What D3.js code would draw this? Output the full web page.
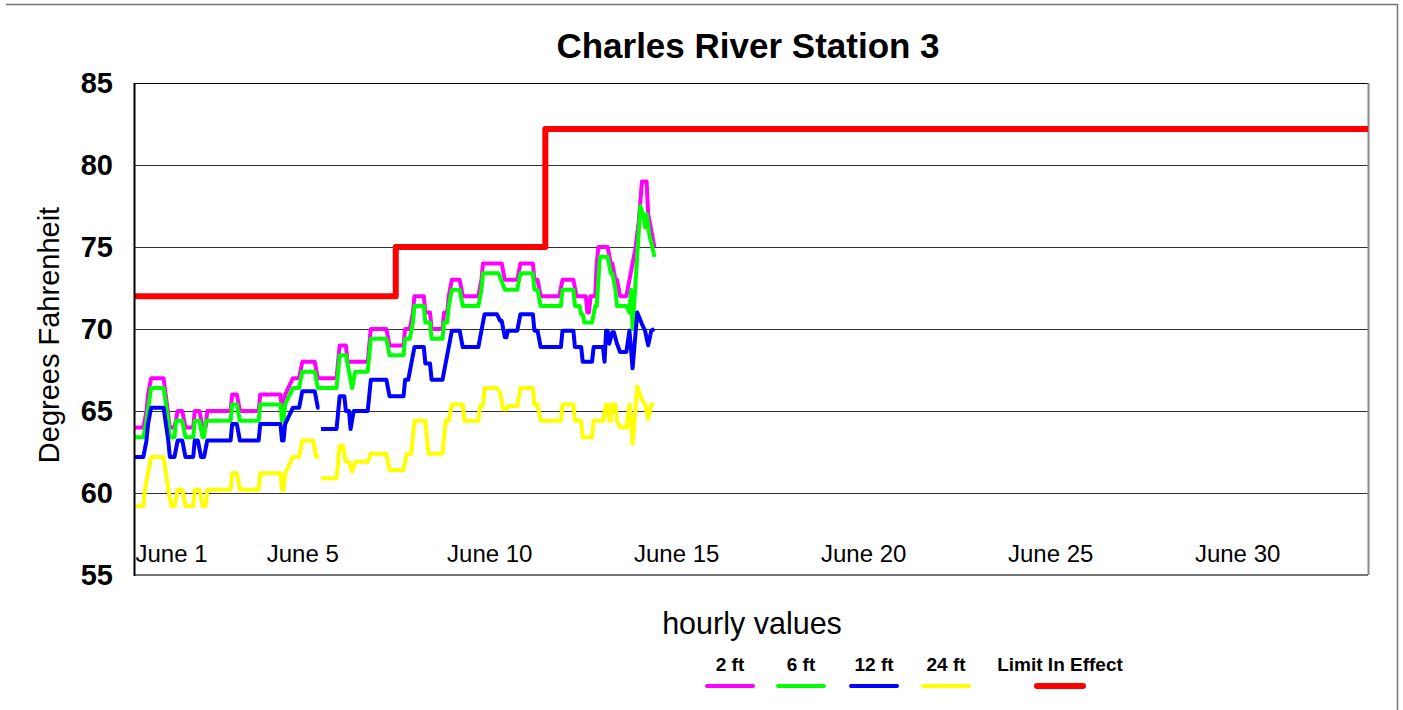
<!DOCTYPE html>
<html>
<head>
<meta charset="utf-8">
<script src="https://cdn.jsdelivr.net/npm/d3@7"></script>
<style>
  body { margin: 0; background: #fff; }
  text { font-family: Arial, "Liberation Sans", sans-serif; }
</style>
</head>
<body>
<svg id="chart"></svg>
<script>
// hourly readings: [hours since June 1 00:00, degrees F]; null marks a missing hour
var depth2ft = [[0,64],[6,64],[8,65],[9,66],[11,67],[19,67],[21,65.5],[23,64],[26,64],[28,65],[31,65],[33,64],[38,64],[39,65],[42,65],[44,64],[46,64],[47,65],[62,65],[63,66],[66,66],[68,65],[80,65],[81,66],
	[94,66],[95,65],[96,65],[97,66],[102,67],[106,67],[108,68],[116,68],[118,67],[130,67],[132,69],[136,69],[137,68],[150,68],[152,70],[162,70],[164,69],
	[173,69],[174,70],[177,70],[179,71],[180,72],[186,72],[187,71],[190,71],[191,70],[198,70],[199,71],[201,71],[202,72],[204,73],[209,73],[211,72],[221,72],[223,73],[224,74],[236,74],[238,73],[246,73],[248,74],
	[256,74],[257,73],[259,73],[261,72],[273,72],[275,73],[282,73],[284,72],[290,72],[291,71],[292,71],[293,72],[296,72],[297,74],[298,75],[304,75],[306,74],[307,74],[309,73],[310,73],[312,72],[316,72],[318,73],[320,74],[322,75],[324,76.6],[326,79],[329,79],[330,77],[332,76],[334,75]];

var depth6ft = [[0,63.4],[6,63.4],[8,64.4],[11,66.4],[19,66.4],[22,64.4],[23,63.4],[26,63.4],[27,64.4],[31,64.4],[33,63.4],[38,63.4],[39,64.4],[42,64.4],[44,63.4],[45,63.4],[46,64.4],[62,64.4],[63,65.4],[66,65.4],[68,64.4],[80,64.4],[81,65.4],
	[94,65.4],[95,64.4],[96,64.4],[97,65.4],[102,66.4],[106,66.4],[108,67.4],[116,67.4],[118,66.4],[130,66.4],[132,68.4],[136,68.4],[138,67.4],[140,66.4],[142,67.4],[150,67.4],[152,69.4],[162,69.4],[164,68.4],
	[173,68.4],[174,69.4],[177,69.4],[179,70.4],[180,71.4],[186,71.4],[187,70.4],[190,70.4],[191,69.4],[198,69.4],[199,70.4],[201,70.4],[202,71.4],[204,72.4],[209,72.4],[211,71.4],[221,71.4],[223,72.4],[224,73.4],[234,73.4],[236,72.9],[238,72.4],[246,72.4],[248,73.4],
	[256,73.4],[257,72.4],[259,72.4],[261,71.4],[274,71.4],[275,72.4],[282,72.4],[283,71.4],[286,71.4],[287,70.9],[288,70.9],[289,70.4],[294,70.4],[296,71.4],[297,71.4],[299,74.4],[304,74.4],[306,73.4],[307,73.4],[309,72.4],[310,71.4],[316,71.4],[318,71.0],[319,72.4],[320,70.0],[325,77.5],[327,76.9],[328,76.2],[329,77.0],[331,75.6],[332,75.3],[334,74.4]];

var depth12ft = [[0,62.2],[6,62.2],[8,63.2],[9,64.2],[11,65.2],[19,65.2],[22,63.2],[23,62.2],[26,62.2],[28,63.2],[31,63.2],[33,62.2],[38,62.2],[39,63.2],[41,63.2],[43,62.2],[45,62.2],[47,63.2],[62,63.2],[63,64.2],[66,64.2],[68,63.2],[80,63.2],[81,64.2],
	[94,64.2],[95,63.2],[96,63.2],[97,64.2],[102,65.2],[106,65.2],[108,66.2],[116,66.2],[118,65.2],[119,65.2],[119.5,null],[120,63.9],[130,63.9],[132,65.9],[135,65.9],[136,65.0],[138,65.0],[139,63.9],[141,65.0],[150,65.0],[152,66.9],[162,66.9],[164,65.9],
	[173,65.9],[174,66.9],[176,66.9],[178,67.9],[180,68.9],[186,68.9],[187,67.9],[190,67.9],[191,66.9],[198,66.9],[200,67.9],[202,68.9],[204,69.9],[209,69.9],[211,68.9],[221,68.9],[223,69.9],[225,70.9],[233,70.9],[235,70.5],[236,70.5],[238,69.5],[239,69.5],[240,69.9],[246,69.9],[248,70.9],
	[256,70.9],[257,69.9],[259,69.9],[261,68.9],[274,68.9],[275,69.9],[282,69.9],[283,68.9],[287,68.9],[288,68.0],[294,68.0],[295,68.9],[301,68.9],[302,68.0],[303,69.9],[304,69.9],[305,69.1],[307,69.8],[308,69.8],[310,69.1],[312,68.6],[316,68.6],[318,69.9],[320,67.6],[323,71.0],[326,70.3],[328,69.9],[330,69.0],[332,69.9],[334,70.0]];

var depth24ft = [[0,59.2],[6,59.2],[7,60.2],[9,61.2],[11,62.2],[19,62.2],[22,60.2],[24,59.2],[26,59.2],[28,60.2],[31,60.2],[33,59.2],[38,59.2],[39,60.2],[42,60.2],[44,59.2],[46,59.2],[47,60.2],[62,60.2],[63,61.2],[66,61.2],[68,60.2],[80,60.2],[81,61.2],
	[94,61.2],[95,60.2],[96,60.2],[97,61.2],[102,62.2],[106,62.2],[108,63.2],[115,63.2],[117,62.2],[119,62.2],[119.5,null],[120,60.9],[130,60.9],[132,62.9],[134,62.9],[136,61.9],[138,61.9],[140,61.3],[142,61.9],[150,61.9],[152,62.4],[162,62.4],[164,61.4],
	[173,61.4],[175,62.4],[178,62.4],[180,64.4],[187,64.4],[189,62.4],[198,62.4],[200,64.4],[202,64.4],[204,65.4],[211,65.4],[212,64.4],[221,64.4],[222,65.3],[224,65.3],[225,66.4],[233,66.4],[235,66.1],[237,65.1],[239,65.1],[240,65.3],[246,65.3],[248,66.4],
	[256,66.4],[257,65.4],[259,65.4],[261,64.4],[274,64.4],[275,65.4],[282,65.4],[283,64.4],[287,64.4],[288,63.4],[294,63.4],[295,64.4],[301,64.4],[303,65.4],[304,65.4],[305,64.4],[306,64.4],[307,65.4],[309,65.4],[310,64.4],[312,64.0],[316,64.0],[318,65.4],[320,63.0],[323,66.5],[326,65.7],[328,65.4],[330,64.5],[332,65.4],[334,65.4]];

var limitInEffect = [[0,72],[168,72],[168,75],[264,75],[264,82.2],[792,82.2]];

var seriesNames  = ["2 ft", "6 ft", "12 ft", "24 ft", "Limit In Effect"];
var seriesColors = ["#ff00ff", "#00ff00", "#0000ff", "#ffff00", "#ff0000"];
var yTicks       = [55, 60, 65, 70, 75, 80, 85];
var xTickDays    = [1, 5, 10, 15, 20, 25, 30];

var W = 1403, H = 710;
var margin = { top: 83, left: 134, right: 35, bottom: 135 },
	width  = W - margin.left - margin.right,
	height = H - margin.top - margin.bottom;

var start = new Date(2009, 5, 1), end = new Date(2009, 6, 4);

var x = d3.scaleTime().domain([start, end]).range([0, width]);
var y = d3.scaleLinear().domain([55, 85]).range([height, 0]);

function toDate(h) { return d3.timeMinute.offset(start, Math.round(h * 60)); }

var svg = d3.select('#chart').attr('width', W).attr('height', H);

// outer chart frame (top and right edge visible)
svg.append('path')
	.attr('d', 'M6,4.5H1397.5V' + H)
	.attr('fill', 'none').attr('stroke', '#777').attr('stroke-width', 1.5);

svg.append('text')
	.attr('x', 748).attr('y', 58)
	.attr('text-anchor', 'middle')
	.style('font-size', '35px').style('font-weight', 'bold')
	.text('Charles River Station 3');

var g = svg.append('g').attr('transform', 'translate(' + margin.left + ',' + margin.top + ')');

g.append('clipPath').attr('id', 'clip').append('rect')
	.attr('width', width).attr('height', height);

// gridlines
g.selectAll('line.grid')
	.data(yTicks.filter(function(d){ return d > 55 && d < 85; }))
	.enter().append('line').attr('class', 'grid')
	.attr('x1', 0).attr('x2', width)
	.attr('y1', function(d){ return y(d) + 0.5; })
	.attr('y2', function(d){ return y(d) + 0.5; })
	.attr('stroke', '#333').attr('stroke-width', 1);

// plot frame
g.append('line').attr('x1', 0).attr('x2', width).attr('y1', 0.5).attr('y2', 0.5).attr('stroke', '#000');
g.append('line').attr('x1', width + 0.5).attr('x2', width + 0.5).attr('y1', 0).attr('y2', height).attr('stroke', '#888').attr('stroke-width', 2);
g.append('line').attr('x1', 0).attr('x2', width).attr('y1', height).attr('y2', height).attr('stroke', '#777').attr('stroke-width', 2);

var line = d3.line()
	.defined(function(d){ return d[1] != null; })
	.x(function(d){ return x(toDate(d[0])); })
	.y(function(d){ return y(d[1]); });

var series = [depth2ft, depth6ft, depth12ft, depth24ft, limitInEffect];

g.append('g').attr('clip-path', 'url(#clip)')
	.selectAll('path')
	.data(series).enter().append('path')
	.attr('d', line)
	.attr('fill', 'none')
	.attr('stroke', function(d, i){ return seriesColors[i]; })
	.attr('stroke-width', function(d, i){ return i == 4 ? 6 : 4; })
	.attr('stroke-linejoin', 'round');

// y axis
var yAxis = g.append('g')
	.call(d3.axisLeft(y).tickValues(yTicks).tickSize(0).tickPadding(21));
yAxis.select('.domain').remove();
yAxis.selectAll('text')
	.style('font-size', '29px').style('font-weight', 'bold')
	.attr('fill', '#000');

g.append('line').attr('x1', 0.5).attr('x2', 0.5).attr('y1', 0).attr('y2', height + 1)
	.attr('stroke', '#000').attr('stroke-width', 2);

// x axis, labels sit inside the plot
var tickDates = xTickDays.map(function(d){ return new Date(2009, 5, d, 12); });
var xAxis = g.append('g')
	.attr('transform', 'translate(0,' + height + ')')
	.call(d3.axisBottom(x).tickValues(tickDates).tickSize(0).tickFormat(d3.timeFormat('June %-d')));
xAxis.select('.domain').remove();
xAxis.selectAll('text')
	.attr('y', -13).attr('dy', 0)
	.style('font-size', '24px')
	.attr('fill', '#000');
xAxis.selectAll('.tick').filter(function(d, i){ return i == 0; }).select('text')
	.attr('text-anchor', 'start')
	.attr('x', x(start) - x(tickDates[0]) + 1);

svg.append('text')
	.attr('transform', 'translate(59,' + (margin.top + height / 2 + 6) + ') rotate(-90)')
	.attr('text-anchor', 'middle')
	.style('font-size', '29px')
	.text('Degrees Fahrenheit');

svg.append('text')
	.attr('x', 752).attr('y', 634)
	.attr('text-anchor', 'middle')
	.style('font-size', '30.5px')
	.text('hourly values');

// legend
var legendX = [730, 801, 874, 946, 1060];
var legend = svg.selectAll('g.legend')
	.data(seriesNames).enter().append('g').attr('class', 'legend')
	.attr('transform', function(d, i){ return 'translate(' + legendX[i] + ',0)'; });
legend.append('text')
	.attr('y', 671).attr('text-anchor', 'middle')
	.style('font-size', '19px').style('font-weight', 'bold')
	.text(function(d){ return d; });
legend.append('line')
	.attr('x1', -23).attr('x2', 23).attr('y1', 686).attr('y2', 686)
	.attr('stroke', function(d, i){ return seriesColors[i]; })
	.attr('stroke-width', function(d, i){ return i == 4 ? 6 : 4; })
	.attr('stroke-linecap', 'round');
</script>
</body>
</html>
